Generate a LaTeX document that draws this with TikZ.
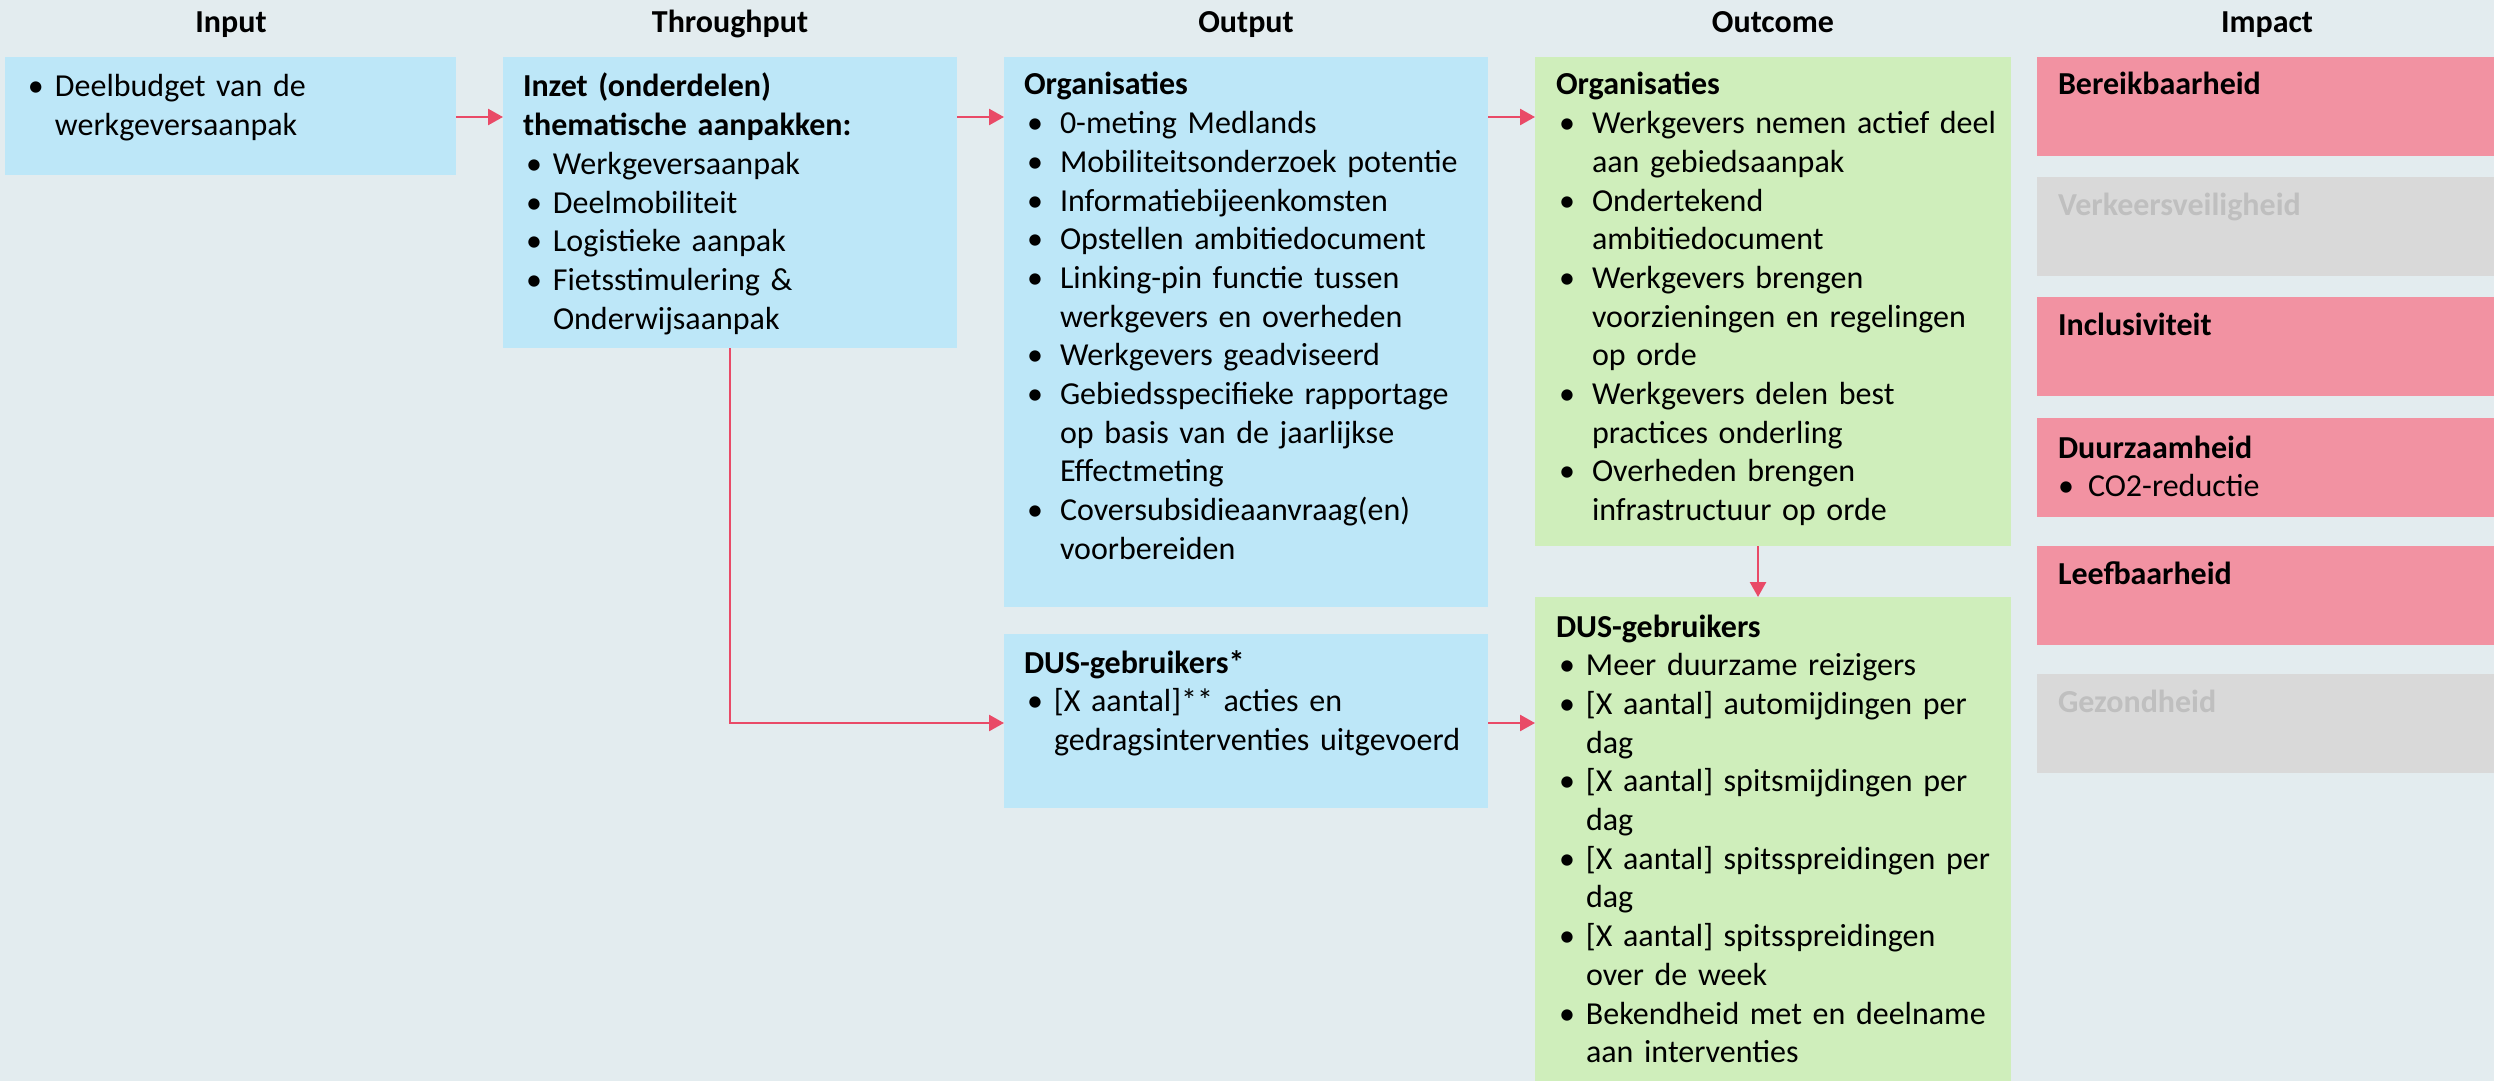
\documentclass[tikz,border=0pt]{standalone}
\usepackage{fontspec}
\setmainfont{Carlito}
\usetikzlibrary{arrows.meta}
\definecolor{bg}{HTML}{E3ECEF}
\definecolor{bluebox}{HTML}{BDE7F8}
\definecolor{greenbox}{HTML}{CFEEBB}
\definecolor{pinkbox}{HTML}{F292A2}
\definecolor{greybox}{HTML}{D9D9D9}
\definecolor{greytext}{HTML}{BFBFBF}
\definecolor{arrowred}{HTML}{E94A67}
\newlength{\bulind}\newlength{\bulofs}
\setlength{\bulofs}{1.5pt}
\newcommand{\itmx}{\hangindent=\bulind\hangafter=1\noindent\makebox[\bulind][l]{\hspace{\bulofs}\textbullet}}
\newcommand{\itm}{\par\itmx}
\newcommand{\brk}{\hfil\break}
\begin{document}
\begin{tikzpicture}[x=0.5pt,y=-0.5pt,
  boxnode/.style={anchor=north west, inner sep=0pt, outer sep=0pt, draw=none},
  txt/.style={anchor=base west, inner sep=0pt, outer sep=0pt, align=left,
    font=\fontsize{16pt}{19.35pt}\selectfont, text=black},
  head/.style={anchor=base, inner sep=0pt, font=\fontsize{16pt}{19pt}\selectfont\bfseries},
  arr/.style={draw=arrowred, line width=1.3pt, -{Triangle[length=7.5pt,width=8pt]}},
  imp/.style={boxnode, fill=pinkbox, minimum width=228.5pt, minimum height=49.5pt},
  impg/.style={boxnode, fill=greybox, minimum width=228.5pt, minimum height=49.5pt},
]
\fill[bg] (0,0) rectangle (2494,1081);
\useasboundingbox (0,0) rectangle (2494,1081);

% headings
\node[head] (hin)  at (231,33)  {Input};
\node[head] (hthr) at (730,33)  {Throughput};
\node[head] (hout) at (1246,33) {Output};
\node[head] (hoc)  at (1773,33) {Outcome};
\node[head] (himp) at (2267,33) {Impact};

% boxes
\node[boxnode, fill=bluebox, minimum width=225.5pt, minimum height=59pt] (in) at (5,57) {};
\node[boxnode, fill=bluebox, minimum width=227pt, minimum height=145.5pt] (thr) at (503,57) {};
\node[boxnode, fill=bluebox, minimum width=242pt, minimum height=275pt] (outorg) at (1004,57) {};
\node[boxnode, fill=bluebox, minimum width=242pt, minimum height=87pt] (outdus) at (1004,634) {};
\node[boxnode, fill=greenbox, minimum width=238pt, minimum height=244.5pt] (ocorg) at (1535,57) {};
\node[boxnode, fill=greenbox, minimum width=238pt, minimum height=242pt] (ocdus) at (1535,597) {};
\node[imp]  (i1) at (2037,57) {};
\node[impg] (i2) at (2037,177) {};
\node[imp]  (i3) at (2037,297) {};
\node[imp]  (i4) at (2037,418) {};
\node[imp]  (i5) at (2037,546) {};
\node[impg] (i6) at (2037,674) {};

% texts
\setlength{\bulind}{15pt}
\node[txt, text width=215pt] (tin) at ([xshift=10pt,yshift=-20pt]in.north west)
  {\itmx Deelbudget van de\brk werkgeversaanpak\par};
\node[txt, text width=215pt] (tthr) at ([xshift=10pt,yshift=-20pt]thr.north west)
  {\noindent\textbf{Inzet (onderdelen)\brk thematische aanpakken:}
   \itm Werkgeversaanpak
   \itm Deelmobiliteit
   \itm Logistieke aanpak
   \itm Fietsstimulering \&\brk Onderwijsaanpak\par};
\setlength{\bulind}{18pt}
\node[txt, text width=230pt] (toutorg) at ([xshift=10pt,yshift=-19pt]outorg.north west)
  {\noindent\textbf{Organisaties}
   \itm 0-meting Medlands
   \itm Mobiliteitsonderzoek potentie
   \itm Informatiebijeenkomsten
   \itm Opstellen ambitiedocument
   \itm Linking-pin functie tussen\brk werkgevers en overheden
   \itm Werkgevers geadviseerd
   \itm Gebiedsspecifieke rapportage\brk op basis van de jaarlijkse\brk Effectmeting
   \itm Coversubsidieaanvraag(en)\brk voorbereiden\par};
\setlength{\bulind}{15pt}
\node[txt, text width=230pt] (toutdus) at ([xshift=10pt,yshift=-19.5pt]outdus.north west)
  {\noindent\textbf{DUS-gebruikers*}
   \itm [X aantal]** acties en\brk gedragsinterventies uitgevoerd\par};
\setlength{\bulind}{18pt}
\node[txt, text width=228pt] (tocorg) at ([xshift=10.5pt,yshift=-19pt]ocorg.north west)
  {\noindent\textbf{Organisaties}
   \itm Werkgevers nemen actief deel\brk aan gebiedsaanpak
   \itm Ondertekend\brk ambitiedocument
   \itm Werkgevers brengen\brk voorzieningen en regelingen\brk op orde
   \itm Werkgevers delen best\brk practices onderling
   \itm Overheden brengen\brk infrastructuur op orde\par};
\setlength{\bulind}{15pt}
\node[txt, text width=228pt] (tocdus) at ([xshift=10.5pt,yshift=-20pt]ocdus.north west)
  {\noindent\textbf{DUS-gebruikers}
   \itm Meer duurzame reizigers
   \itm [X aantal] automijdingen per\brk dag
   \itm [X aantal] spitsmijdingen per\brk dag
   \itm [X aantal] spitsspreidingen per\brk dag
   \itm [X aantal] spitsspreidingen\brk over de week
   \itm Bekendheid met en deelname\brk aan interventies\par};
\setlength{\bulofs}{0pt}
\node[txt, text width=215pt] (ti1) at ([xshift=10.5pt,yshift=-19pt]i1.north west) {\textbf{Bereikbaarheid}};
\node[txt, text width=215pt, text=greytext] (ti2) at ([xshift=10.5pt,yshift=-19pt]i2.north west) {\textbf{Verkeersveiligheid}};
\node[txt, text width=215pt] (ti3) at ([xshift=10.5pt,yshift=-19pt]i3.north west) {\textbf{Inclusiviteit}};
\node[txt, text width=215pt] (ti4) at ([xshift=10.5pt,yshift=-20pt]i4.north west)
  {\noindent\textbf{Duurzaamheid}
   \itm CO2-reductie\par};
\node[txt, text width=215pt] (ti5) at ([xshift=10.5pt,yshift=-19pt]i5.north west) {\textbf{Leefbaarheid}};
\node[txt, text width=215pt, text=greytext] (ti6) at ([xshift=10.5pt,yshift=-19pt]i6.north west) {\textbf{Gezondheid}};

% connectors
\coordinate (ya) at (0,117);
\coordinate (yb) at (0,723);
\coordinate (xd) at (1758,0);
\draw[arr] (in.east |- ya) -- (thr.west |- ya);
\draw[arr] (thr.east |- ya) -- (outorg.west |- ya);
\draw[arr] (outorg.east |- ya) -- (ocorg.west |- ya);
\draw[arr] (thr.south) |- (outdus.west |- yb);
\draw[arr] (outdus.east |- yb) -- (ocdus.west |- yb);
\draw[arr] (ocorg.south -| xd) -- (ocdus.north -| xd);
\end{tikzpicture}
\end{document}
